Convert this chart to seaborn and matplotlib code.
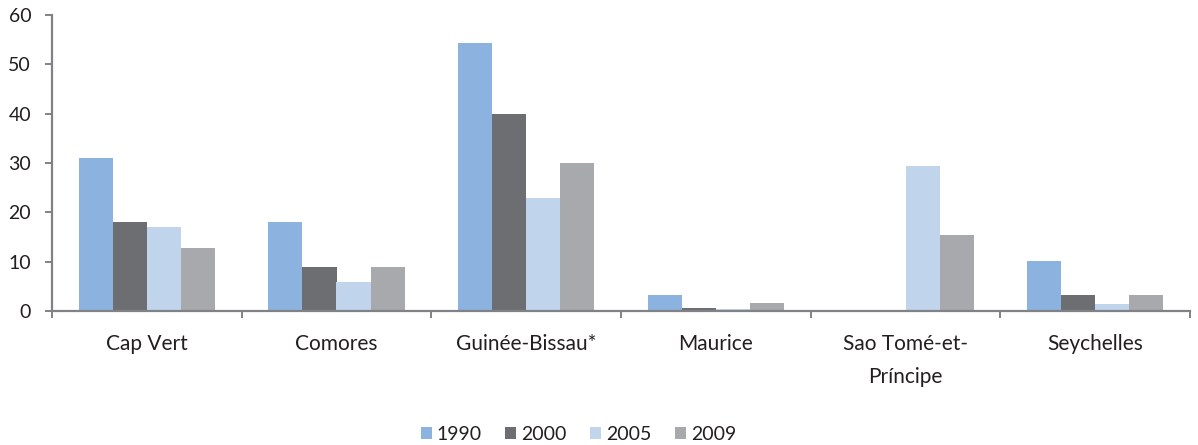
import numpy as np
import pandas as pd
import matplotlib
matplotlib.use("Agg")
import matplotlib.pyplot as plt
import seaborn as sns
from matplotlib.patches import Patch

countries = ["Cap Vert", "Comores", "Guinée-Bissau*", "Maurice",
             "Sao Tomé-et-\nPríncipe", "Seychelles"]
years = ["1990", "2000", "2005", "2009"]
v1990 = [31.0, 18.0, 54.3, 3.2, np.nan, 10.1]
v2000 = [18.1, 9.0, 39.9, 0.6, np.nan, 3.2]
v2005 = [17.0, 5.9, 22.9, 0.4, 29.3, 1.5]
v2009 = [12.8, 9.0, 29.9, 1.6, 15.4, 3.2]
colors = ["#8cb3e0", "#6d6e71", "#c0d5ec", "#a7a9ac"]

df = pd.DataFrame({"pays": countries * 4,
                   "annee": sum([[y] * len(countries) for y in years], []),
                   "valeur": v1990 + v2000 + v2005 + v2009})

sns.set_theme(style="white")
plt.rcParams["font.family"] = ["Lato", "DejaVu Sans"]

fig = plt.figure(figsize=(11.98, 4.45), dpi=100)
ax = fig.add_axes([52 / 1198, 134 / 445, 1138 / 1198, 296 / 445])

sns.barplot(data=df, x="pays", y="valeur", hue="annee", palette=colors,
            width=0.72, saturation=1, linewidth=0, ax=ax, legend=False)

ax.set_xlim(-0.5, len(countries) - 0.5)
ax.set_ylim(0, 60)
ax.set_yticks(range(0, 61, 10))
ax.set_xlabel("")
ax.set_ylabel("")

axis_grey = "#808285"
for side in ["top", "right"]:
    ax.spines[side].set_visible(False)
for side in ["left", "bottom"]:
    ax.spines[side].set_color(axis_grey)
    ax.spines[side].set_linewidth(1.6)

ax.tick_params(axis="y", which="major", direction="out", length=5, width=1.4,
               color=axis_grey, labelsize=14, labelcolor="#231f20", pad=10, left=True)
ax.tick_params(axis="x", which="major", length=0, labelsize=15,
               labelcolor="#231f20", pad=16.5)
for lbl in ax.get_xticklabels():
    lbl.set_linespacing(1.8)
ax.set_xticks(np.arange(-0.5, len(countries), 1.0), minor=True)
ax.tick_params(axis="x", which="minor", direction="out", length=5, width=1.4,
               color=axis_grey, bottom=True)

handles = [Patch(facecolor=c, edgecolor="none") for c in colors]
fig.legend(handles, years, loc="lower center", bbox_to_anchor=(0.483, -0.035),
           ncol=4, frameon=False, fontsize=14, handlelength=0.57, handleheight=0.57,
           handletextpad=0.26, columnspacing=1.2, labelcolor="#231f20")

fig.savefig("out.png", dpi=100)
